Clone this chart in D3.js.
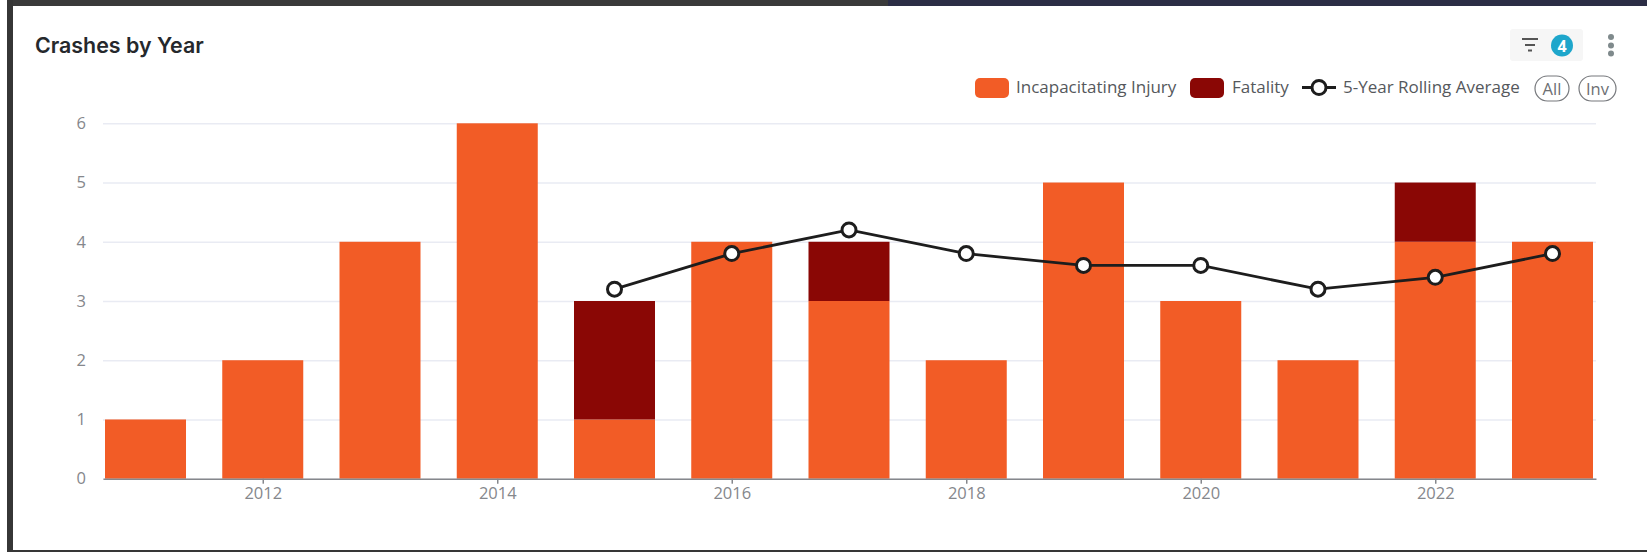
<!DOCTYPE html>
<html>
<head>
<meta charset="utf-8">
<title>Crashes by Year</title>
<script src="https://cdn.jsdelivr.net/npm/d3@7"></script>
<style>
    html, body { margin: 0; padding: 0; background: #fff; overflow: hidden; }
    svg { display: block; }
    text { font-family: "Open Sans", "Noto Sans", sans-serif; }
    .title { font-family: Inter, sans-serif; font-weight: 600; font-size: 21.4px; fill: #25282c; }
    .tick text { fill: #85878c; font-size: 16.5px; }
    .legend-label { fill: #55585c; font-size: 17px; }
    .pill-label { fill: #6d6f73; font-size: 16.5px; }
</style>
</head>
<body>
<svg id="chart" width="1647" height="552"></svg>
<script>
var years = [2011, 2012, 2013, 2014, 2015, 2016, 2017, 2018, 2019, 2020, 2021, 2022, 2023];
var injury = [1, 2, 4, 6, 1, 4, 3, 2, 5, 3, 2, 4, 4];
var fatality = [0, 0, 0, 0, 2, 0, 1, 0, 0, 0, 0, 1, 0];
var avgYears = [2015, 2016, 2017, 2018, 2019, 2020, 2021, 2022, 2023];
var rollingAvg = [3.2, 3.8, 4.2, 3.8, 3.6, 3.6, 3.2, 3.4, 3.8];
var xTicks = [2012, 2014, 2016, 2018, 2020, 2022];
var yTicks = [0, 1, 2, 3, 4, 5, 6];
var seriesNames = ["Incapacitating Injury", "Fatality", "5-Year Rolling Average"];
var pillLabels = ["All", "Inv"];
var badgeCount = "4";

var orange = "#f25c26", darkRed = "#8a0705", ink = "#1d1d1d";
var svg = d3.select("#chart");

// window frame from the screenshot
var frame = svg.append("g");
frame.append("rect").attr("width", 1647).attr("height", 6).attr("fill", "#2b2d45");
frame.append("rect").attr("width", 888).attr("height", 6).attr("fill", "#3a3a3a");
frame.append("rect").attr("x", 7).attr("width", 6).attr("height", 552).attr("fill", "#363636");
frame.append("rect").attr("y", 550).attr("width", 1647).attr("height", 2).attr("fill", "#363636");
frame.append("rect").attr("width", 7).attr("height", 552).attr("fill", "#fff");

svg.append("text").attr("class", "title").attr("x", 35).attr("y", 52.5).text("Crashes by Year");

var xScale = d3.scaleLinear().domain([2010.6375, 2023.371]).range([103, 1596]);
var yScale = d3.scaleLinear().domain([0, 6]).range([478.7, 123.3]);
var barWidth = 81;

// gridlines
var grid = svg.append("g")
    .attr("transform", "translate(103,0)")
    .call(d3.axisLeft(yScale).tickValues(yTicks).tickSize(-1493).tickPadding(17).tickFormat(d3.format("d")));
grid.select(".domain").remove();
grid.selectAll(".tick line").attr("stroke", "#e9ebf3").attr("stroke-width", 1.5);

// bars
var barsGroup = svg.append("g");
barsGroup.selectAll(".bar-injury").data(years).enter().append("rect")
    .attr("class", "bar-injury")
    .attr("x", function (d) { return xScale(d) - barWidth / 2; })
    .attr("y", function (d, i) { return yScale(injury[i]); })
    .attr("width", barWidth)
    .attr("height", function (d, i) { return yScale(0) - yScale(injury[i]); })
    .attr("fill", orange);
barsGroup.selectAll(".bar-fatality").data(years).enter().append("rect")
    .attr("class", "bar-fatality")
    .attr("x", function (d) { return xScale(d) - barWidth / 2; })
    .attr("y", function (d, i) { return yScale(injury[i] + fatality[i]); })
    .attr("width", barWidth)
    .attr("height", function (d, i) { return yScale(0) - yScale(fatality[i]); })
    .attr("fill", darkRed);

// x axis
var xAxis = svg.append("g")
    .attr("transform", "translate(0," + yScale(0) + ")")
    .call(d3.axisBottom(xScale).tickValues(xTicks).tickSize(5).tickSizeOuter(0).tickPadding(4).tickFormat(d3.format("d")));
xAxis.select(".domain").attr("stroke", "#85878c").attr("stroke-width", 1.5);
xAxis.selectAll(".tick line").attr("stroke", "#85878c").attr("stroke-width", 1.5);

// rolling average
var line = d3.line()
    .x(function (d) { return xScale(d); })
    .y(function (d, i) { return yScale(rollingAvg[i]); });
svg.append("path").datum(avgYears)
    .attr("d", line)
    .attr("fill", "none")
    .attr("stroke", ink)
    .attr("stroke-width", 2.8);
svg.selectAll(".dot").data(avgYears).enter().append("circle")
    .attr("class", "dot")
    .attr("cx", function (d) { return xScale(d); })
    .attr("cy", function (d, i) { return yScale(rollingAvg[i]); })
    .attr("r", 7)
    .attr("fill", "#fff")
    .attr("stroke", ink)
    .attr("stroke-width", 3);

// legend
var legend = svg.append("g");
legend.append("rect").attr("x", 975).attr("y", 78).attr("width", 34).attr("height", 20).attr("rx", 5).attr("fill", orange);
legend.append("text").attr("class", "legend-label").attr("x", 1016).attr("y", 93).text(seriesNames[0]);
legend.append("rect").attr("x", 1190).attr("y", 78).attr("width", 34).attr("height", 20).attr("rx", 5).attr("fill", darkRed);
legend.append("text").attr("class", "legend-label").attr("x", 1232).attr("y", 93).text(seriesNames[1]);
legend.append("line").attr("x1", 1302).attr("x2", 1336).attr("y1", 87.5).attr("y2", 87.5).attr("stroke", ink).attr("stroke-width", 2.8);
legend.append("circle").attr("cx", 1319).attr("cy", 87.5).attr("r", 7).attr("fill", "#fff").attr("stroke", ink).attr("stroke-width", 3);
legend.append("text").attr("class", "legend-label").attr("x", 1343).attr("y", 93).text(seriesNames[2]);

// All / Inv pills
var pillX = [1535, 1579], pillW = [34, 37];
pillLabels.forEach(function (label, i) {
    legend.append("rect").attr("x", pillX[i]).attr("y", 76).attr("width", pillW[i]).attr("height", 25).attr("rx", 12.5)
        .attr("fill", "#fff").attr("stroke", "#77797d").attr("stroke-width", 1.2);
    legend.append("text").attr("class", "pill-label").attr("x", pillX[i] + pillW[i] / 2).attr("y", 94.5)
        .attr("text-anchor", "middle").text(label);
});

// filter button and menu
var tools = svg.append("g");
tools.append("rect").attr("x", 1510).attr("y", 29).attr("width", 73).attr("height", 32).attr("rx", 3).attr("fill", "#f6f6f6");
[[1522, 1538, 39], [1525, 1535, 45], [1528, 1532, 50.5]].forEach(function (s) {
    tools.append("line").attr("x1", s[0]).attr("x2", s[1]).attr("y1", s[2]).attr("y2", s[2]).attr("stroke", "#555").attr("stroke-width", 2);
});
tools.append("circle").attr("cx", 1562).attr("cy", 45.5).attr("r", 11).attr("fill", "#1ea6cb");
tools.append("text").attr("x", 1562).attr("y", 51.5).attr("text-anchor", "middle")
    .attr("fill", "#fff").attr("font-size", 16).attr("font-weight", 700).text(badgeCount);
[37, 45.5, 53.5].forEach(function (cy) {
    tools.append("circle").attr("cx", 1611).attr("cy", cy).attr("r", 3).attr("fill", "#7f8a8c");
});
</script>
</body>
</html>
